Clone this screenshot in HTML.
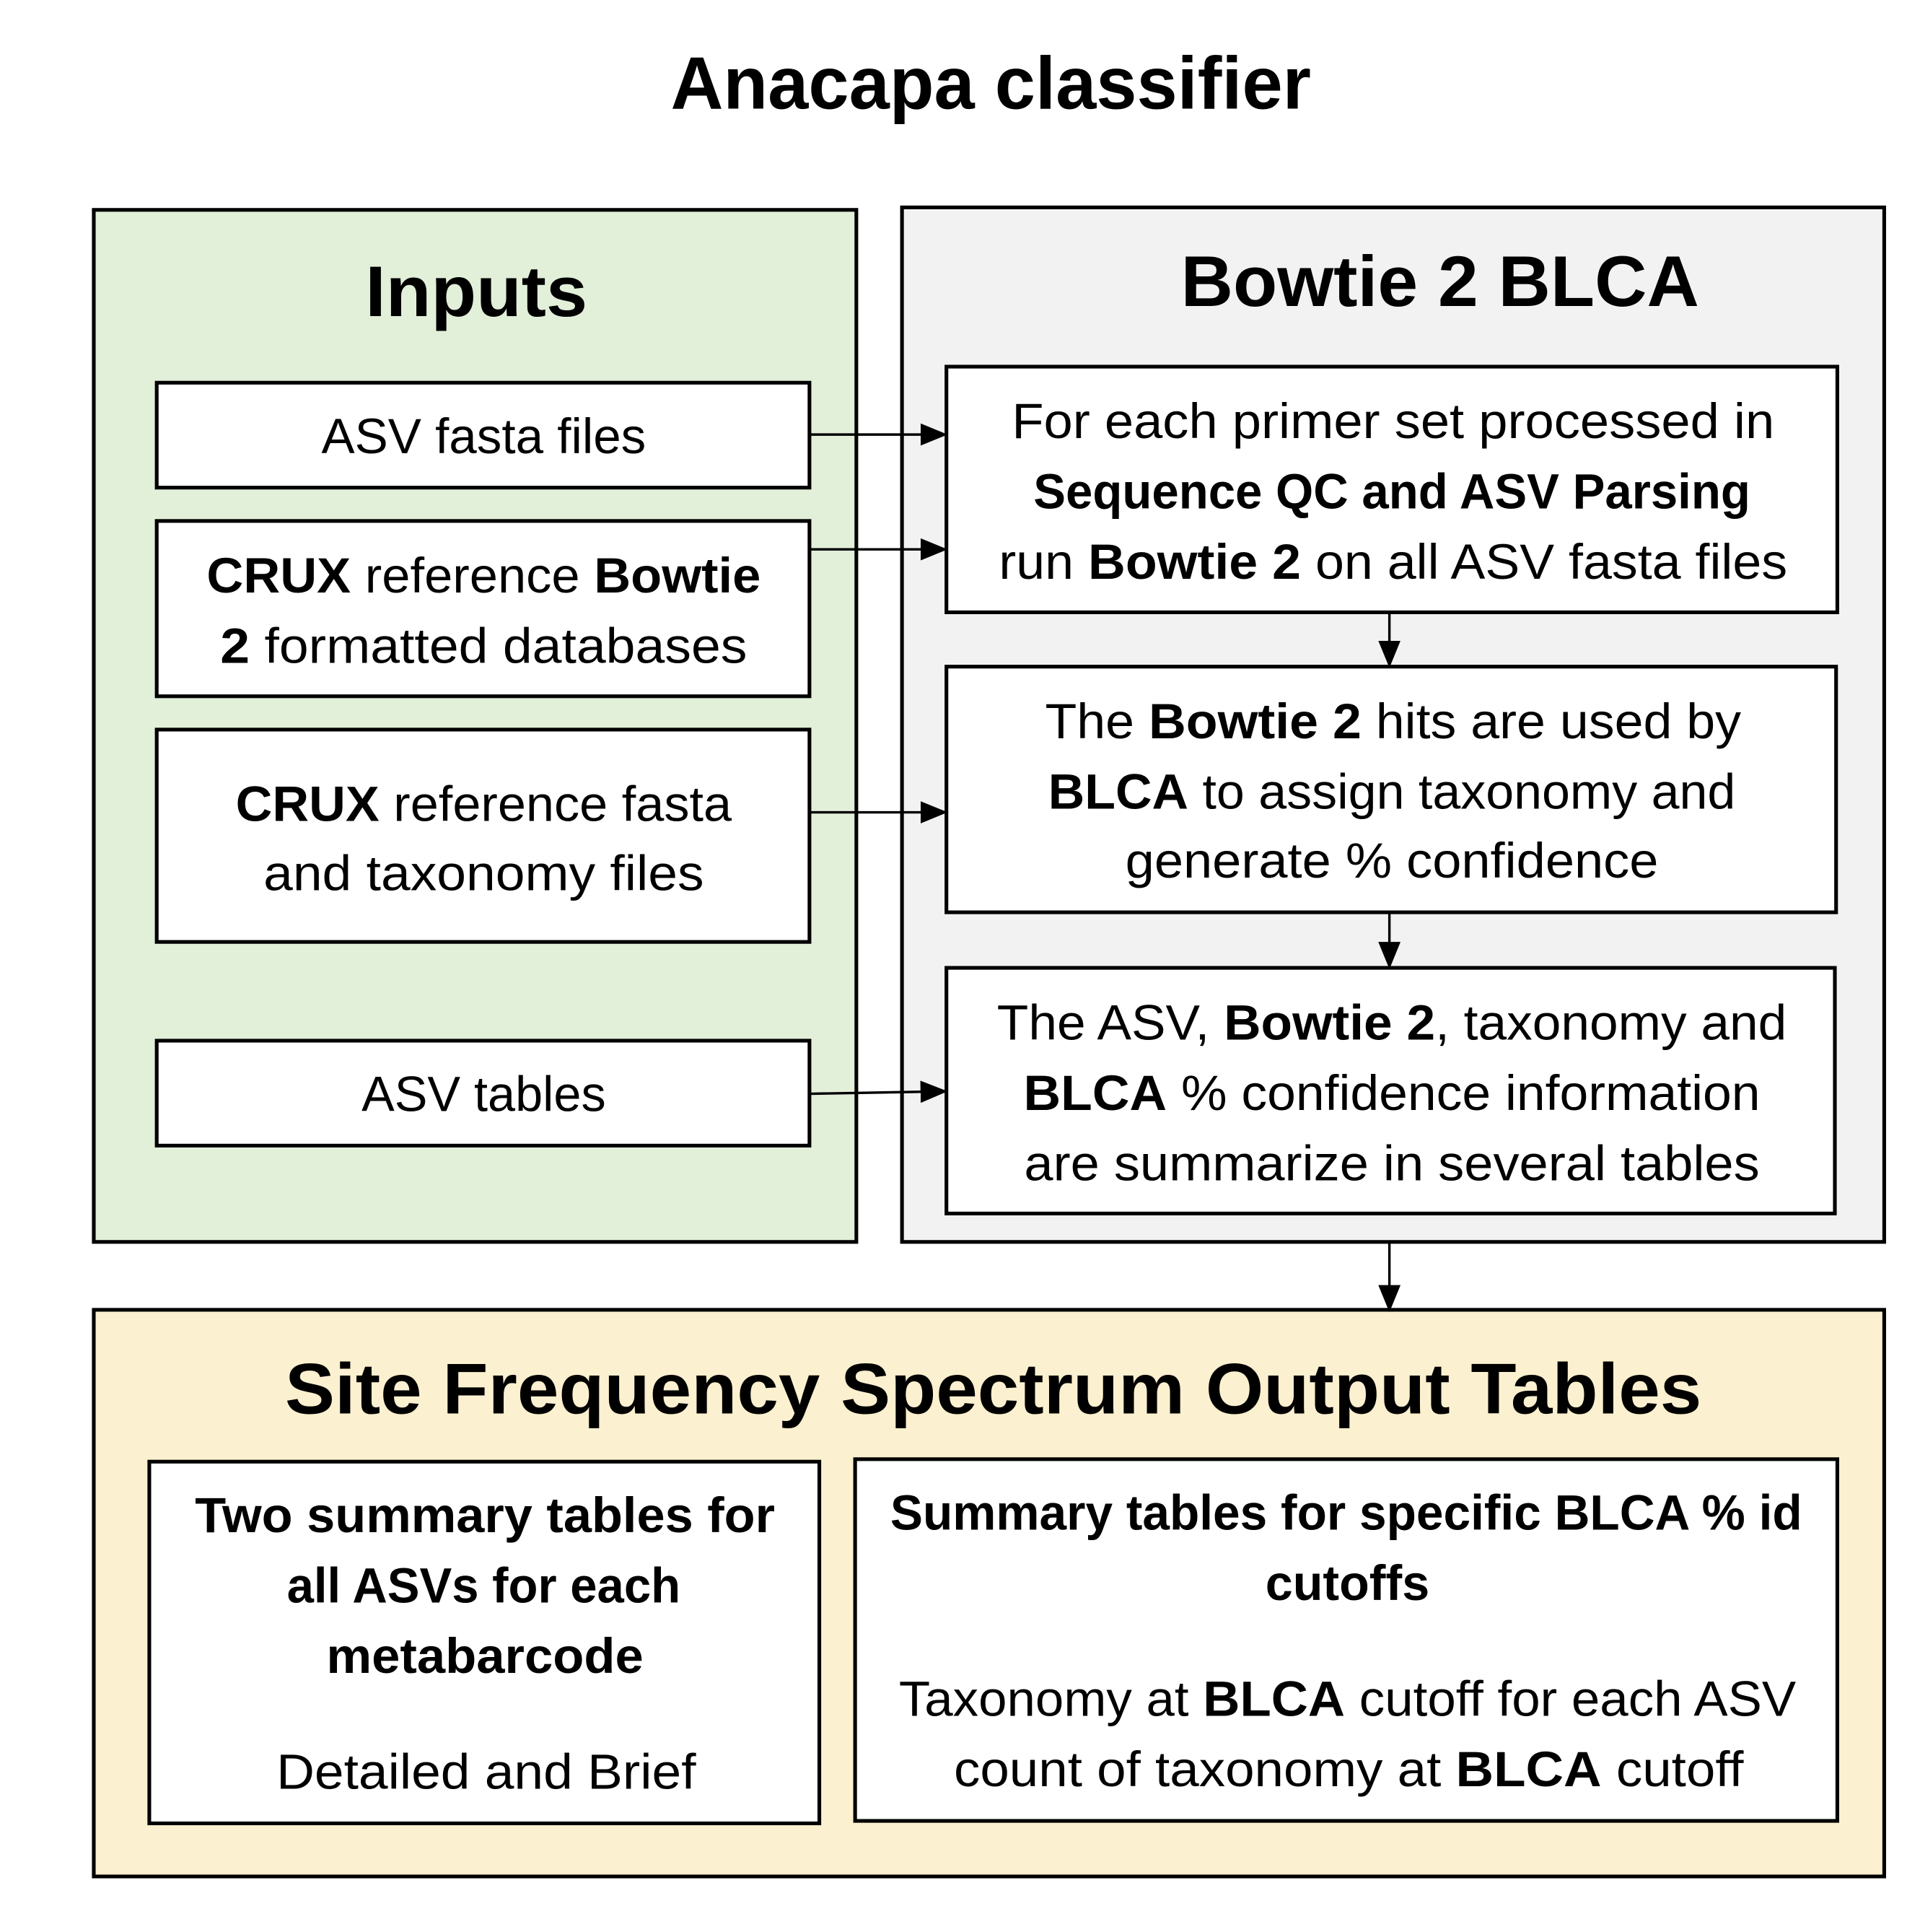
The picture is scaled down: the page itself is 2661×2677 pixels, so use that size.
<!DOCTYPE html>
<html><head><meta charset="utf-8"><style>html,body{margin:0;padding:0;background:#fff}svg{display:block}</style></head>
<body>
<svg width="2661" height="2677" viewBox="0 0 1556 1565" preserveAspectRatio="none" xmlns="http://www.w3.org/2000/svg" font-family="'Liberation Sans', sans-serif" fill="#000">
<defs><marker id="a" markerWidth="10" markerHeight="10" refX="9" refY="5" orient="auto" markerUnits="userSpaceOnUse"><path d="M0,0 L10,5 L0,10 z" fill="#000" transform="scale(1)"/></marker>
<marker id="b" markerWidth="22" markerHeight="18" refX="21" refY="9" orient="auto" markerUnits="userSpaceOnUse"><path d="M0,0 L22,9 L0,18 z" fill="#000"/></marker></defs>
<g stroke="#000" stroke-width="3">
<rect x="76" y="170" width="618" height="836" fill="#e2efd9"/>
<rect x="731" y="168" width="796" height="838" fill="#f2f2f2"/>
<rect x="76" y="1061" width="1451" height="459" fill="#fbf0cf"/>
<g fill="#fff">
<rect x="127" y="310" width="529" height="85"/>
<rect x="127" y="422" width="529" height="142"/>
<rect x="127" y="591" width="529" height="172"/>
<rect x="127" y="843" width="529" height="85"/>
<rect x="767" y="297" width="722" height="199"/>
<rect x="767" y="540" width="721" height="199"/>
<rect x="767" y="784" width="720" height="199"/>
<rect x="121" y="1184" width="543" height="293"/>
<rect x="693" y="1182" width="796" height="293"/>
</g>
</g>
<g stroke="#000" stroke-width="2" fill="none" marker-end="url(#b)">
<line x1="656" y1="352" x2="767" y2="352"/>
<line x1="656" y1="445" x2="767" y2="445"/>
<line x1="656" y1="658" x2="767" y2="658"/>
<line x1="656" y1="886" x2="767" y2="884"/>
<line x1="1126" y1="496" x2="1126" y2="540"/>
<line x1="1126" y1="739" x2="1126" y2="784"/>
<line x1="1126" y1="1006" x2="1126" y2="1062"/>
</g>
<g text-anchor="middle" lengthAdjust="spacingAndGlyphs">
<text x="803" y="88" font-size="60" font-weight="bold" textLength="519" lengthAdjust="spacingAndGlyphs">Anacapa classifier</text>
<text x="386" y="256" font-size="58" font-weight="bold" textLength="180" lengthAdjust="spacingAndGlyphs">Inputs</text>
<text x="1167" y="248" font-size="58" font-weight="bold" textLength="420" lengthAdjust="spacingAndGlyphs">Bowtie 2 BLCA</text>
<text x="805" y="1145" font-size="58" font-weight="bold" textLength="1148" lengthAdjust="spacingAndGlyphs">Site Frequency Spectrum Output Tables</text>
<g font-size="40">
<text x="392" y="367" textLength="263" lengthAdjust="spacingAndGlyphs">ASV fasta files</text>
<text x="392" y="480" textLength="449" lengthAdjust="spacingAndGlyphs"><tspan font-weight="bold">CRUX</tspan> reference <tspan font-weight="bold">Bowtie</tspan></text>
<text x="392" y="537" textLength="427" lengthAdjust="spacingAndGlyphs"><tspan font-weight="bold">2</tspan> formatted databases</text>
<text x="392" y="665" textLength="402" lengthAdjust="spacingAndGlyphs"><tspan font-weight="bold">CRUX</tspan> reference fasta</text>
<text x="392" y="721" textLength="357" lengthAdjust="spacingAndGlyphs">and taxonomy files</text>
<text x="392" y="900" textLength="198" lengthAdjust="spacingAndGlyphs">ASV tables</text>
<text x="1129" y="355" textLength="618" lengthAdjust="spacingAndGlyphs">For each primer set processed in</text>
<text x="1128" y="412" font-weight="bold" textLength="581" lengthAdjust="spacingAndGlyphs">Sequence QC and ASV Parsing</text>
<text x="1129" y="469" textLength="639" lengthAdjust="spacingAndGlyphs">run <tspan font-weight="bold">Bowtie 2</tspan> on all ASV fasta files</text>
<text x="1129" y="598" textLength="564" lengthAdjust="spacingAndGlyphs">The <tspan font-weight="bold">Bowtie 2</tspan> hits are used by</text>
<text x="1128" y="655" textLength="557" lengthAdjust="spacingAndGlyphs"><tspan font-weight="bold">BLCA</tspan> to assign taxonomy and</text>
<text x="1128" y="711" textLength="432" lengthAdjust="spacingAndGlyphs">generate % confidence</text>
<text x="1128" y="842" textLength="640" lengthAdjust="spacingAndGlyphs">The ASV, <tspan font-weight="bold">Bowtie 2</tspan>, taxonomy and</text>
<text x="1128" y="899" textLength="597" lengthAdjust="spacingAndGlyphs"><tspan font-weight="bold">BLCA</tspan> % confidence information</text>
<text x="1128" y="956" textLength="596" lengthAdjust="spacingAndGlyphs">are summarize in several tables</text>
<text x="393" y="1241" font-weight="bold" textLength="470" lengthAdjust="spacingAndGlyphs">Two summary tables for</text>
<text x="392" y="1298" font-weight="bold" textLength="319" lengthAdjust="spacingAndGlyphs">all ASVs for each</text>
<text x="393" y="1355" font-weight="bold" textLength="257" lengthAdjust="spacingAndGlyphs">metabarcode</text>
<text x="394" y="1449" textLength="340" lengthAdjust="spacingAndGlyphs">Detailed and Brief</text>
<text x="1091" y="1239" font-weight="bold" textLength="739" lengthAdjust="spacingAndGlyphs">Summary tables for specific BLCA % id</text>
<text x="1092" y="1296" font-weight="bold" textLength="133" lengthAdjust="spacingAndGlyphs">cutoffs</text>
<text x="1092" y="1390" textLength="727" lengthAdjust="spacingAndGlyphs">Taxonomy at <tspan font-weight="bold">BLCA</tspan> cutoff for each ASV</text>
<text x="1093" y="1447" textLength="640" lengthAdjust="spacingAndGlyphs">count of taxonomy at <tspan font-weight="bold">BLCA</tspan> cutoff</text>
</g>
</g>
</svg>
</body></html>
